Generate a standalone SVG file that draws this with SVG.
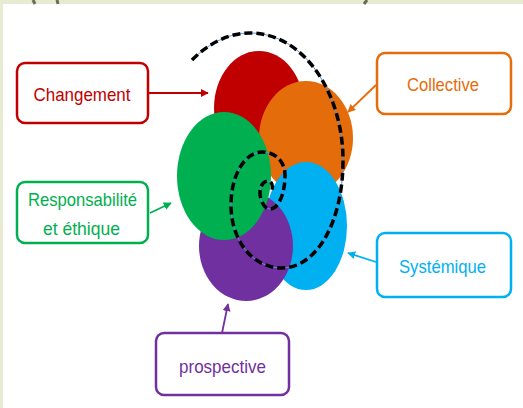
<svg xmlns="http://www.w3.org/2000/svg" width="523" height="408" viewBox="0 0 523 408">
<style>
.box{fill:#fff;stroke-width:2.5}
.lbl{font-family:"Liberation Sans",Arial,sans-serif;font-size:19px;text-anchor:middle}
.conn{stroke-width:1.8;fill:none}
</style>
<defs>
<marker id="aR" viewBox="0 0 10 10" refX="9" refY="5" markerWidth="8" markerHeight="8" orient="auto" markerUnits="userSpaceOnUse"><path d="M0,0L10,5L0,10z" fill="#c00000"/></marker>
<marker id="aO" viewBox="0 0 10 10" refX="9" refY="5" markerWidth="8" markerHeight="8" orient="auto" markerUnits="userSpaceOnUse"><path d="M0,0L10,5L0,10z" fill="#e46c0a"/></marker>
<marker id="aG" viewBox="0 0 10 10" refX="9" refY="5" markerWidth="8" markerHeight="8" orient="auto" markerUnits="userSpaceOnUse"><path d="M0,0L10,5L0,10z" fill="#00b050"/></marker>
<marker id="aC" viewBox="0 0 10 10" refX="9" refY="5" markerWidth="8" markerHeight="8" orient="auto" markerUnits="userSpaceOnUse"><path d="M0,0L10,5L0,10z" fill="#00b0f0"/></marker>
<marker id="aP" viewBox="0 0 10 10" refX="9" refY="5" markerWidth="8" markerHeight="8" orient="auto" markerUnits="userSpaceOnUse"><path d="M0,0L10,5L0,10z" fill="#7030a0"/></marker>
</defs>
<rect width="523" height="408" fill="#fff"/>
<rect x="0" y="0" width="523" height="4" fill="#e6ebd2"/>
<rect x="0" y="0" width="3" height="408" fill="#e6ebd2"/>
<g stroke="#6f6a52" stroke-width="3">
<line x1="33" y1="0" x2="35" y2="4"/>
<line x1="57" y1="0" x2="58" y2="4"/>
<line x1="367" y1="0" x2="364" y2="4"/>
</g>
<g id="ellipses">
<ellipse id="red" cx="259" cy="108" rx="45" ry="57" fill="#c00000"/>
<ellipse id="orange" cx="306" cy="138" rx="47" ry="57" fill="#e46c0a"/>
<ellipse id="cyan" cx="306" cy="226" rx="41" ry="64" fill="#00b0f0"/>
<ellipse id="purple" cx="246" cy="246" rx="47" ry="55" fill="#7030a0"/>
<ellipse id="green" cx="224" cy="176" rx="47" ry="64" fill="#00b050"/>
</g>
<g id="spiral" fill="none">
<path d="M192,60 C210,42 230,33 250,33 C305,33 343,95 343,160 C343,225 315,268 282,268 C252,268 231,240 231,205 C231,175 245,152 262,152 C276,152 285,162 285,175 C285,195 278,209 270,209 C264,209 260,200 260,193 C260,185 264,181 268,181 C272,181 273,186 272,190" stroke="#5b8fd0" stroke-width="1"/>
<path d="M192,60 C210,42 230,33 250,33 C305,33 343,95 343,160 C343,225 315,268 282,268 C252,268 231,240 231,205 C231,175 245,152 262,152 C276,152 285,162 285,175 C285,195 278,209 270,209 C264,209 260,200 260,193 C260,185 264,181 268,181 C272,181 273,186 272,190" stroke="#000" stroke-width="3.5" stroke-dasharray="8 4"/>
</g>
<g id="connectors">
<line class="conn" x1="148" y1="93" x2="208" y2="93" stroke="#c00000" marker-end="url(#aR)"/>
<line class="conn" x1="376" y1="85" x2="348" y2="112" stroke="#e46c0a" marker-end="url(#aO)"/>
<line class="conn" x1="150" y1="213" x2="171" y2="203" stroke="#00b050" marker-end="url(#aG)"/>
<line class="conn" x1="376" y1="262" x2="348" y2="253" stroke="#00b0f0" marker-end="url(#aC)"/>
<line class="conn" x1="222" y1="333" x2="228" y2="304" stroke="#7030a0" marker-end="url(#aP)"/>
</g>
<g id="node-changement">
<rect class="box" x="17" y="63" width="131" height="60" rx="8" stroke="#c00000"/>
<text class="lbl" x="82" y="101" fill="#c00000" textLength="97" lengthAdjust="spacingAndGlyphs">Changement</text>
</g>
<g id="node-collective">
<rect class="box" x="377" y="53" width="134" height="61" rx="8" stroke="#e46c0a"/>
<text class="lbl" x="443" y="91" fill="#e46c0a" textLength="72" lengthAdjust="spacingAndGlyphs">Collective</text>
</g>
<g id="node-responsabilite">
<rect class="box" x="17" y="182" width="131" height="61" rx="8" stroke="#00b050"/>
<text class="lbl" x="82.5" y="206" fill="#00b050" textLength="109" lengthAdjust="spacingAndGlyphs">Responsabilité</text>
<text class="lbl" x="81.5" y="235" fill="#00b050" textLength="77" lengthAdjust="spacingAndGlyphs">et éthique</text>
</g>
<g id="node-systemique">
<rect class="box" x="377" y="233" width="134" height="64" rx="8" stroke="#00b0f0"/>
<text class="lbl" x="442.5" y="273" fill="#00b0f0" textLength="87" lengthAdjust="spacingAndGlyphs">Systémique</text>
</g>
<g id="node-prospective">
<rect class="box" x="156" y="333" width="133" height="62" rx="8" stroke="#7030a0"/>
<text class="lbl" x="222.5" y="373" fill="#7030a0" textLength="87" lengthAdjust="spacingAndGlyphs">prospective</text>
</g>
</svg>
